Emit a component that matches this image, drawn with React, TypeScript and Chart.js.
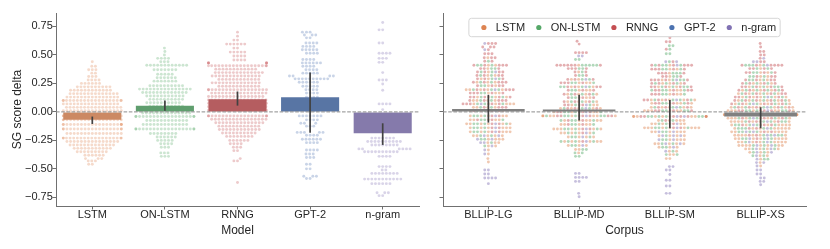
import React, { useEffect, useRef } from 'react';
import { Chart, registerables } from 'chart.js';

Chart.register(...registerables);

const FONT = '"Liberation Sans", Arial, Helvetica, sans-serif';
const TEXT = '#262626';
const AXIS = '#707070';

const MODELS = ['LSTM', 'ON-LSTM', 'RNNG', 'GPT-2', 'n-gram'];
const CORPORA = ['BLLIP-LG', 'BLLIP-MD', 'BLLIP-SM', 'BLLIP-XS'];
const Y_TICKS = [-0.75, -0.5, -0.25, 0, 0.25, 0.5, 0.75];
const Y_MIN = -0.826;
const Y_MAX = 0.868;

const MODEL_COLORS = ['#dd8452', '#55a868', '#c44e52', '#4c72b0', '#8172b3'];
const MODEL_BAR_COLORS = ['#cc8963', '#5f9e6e', '#b55d60', '#5875a4', '#857aab'];
const CORPUS_BAR_COLOR = '#808080';

// Bars (means) and error bars (CI)
const MODEL_MEAN = [-0.068, 0.053, 0.112, 0.129, -0.188];
const MODEL_CI_LOW = [-0.106, 0.011, 0.055, -0.182, -0.29];
const MODEL_CI_HIGH = [-0.041, 0.1, 0.179, 0.346, -0.1];
const CORPUS_MEAN = [0.026, 0.02, -0.006, -0.04];
const CORPUS_CI_LOW = [-0.094, -0.076, -0.144, -0.144];
const CORPUS_CI_HIGH = [0.15, 0.15, 0.105, 0.041];

// Swarm rows per model: [score delta, number of suites at that value]
const LSTM_ROWS: [number, number][] = [
  [0.44, 1], [0.4, 2], [0.37, 3], [0.34, 2], [0.31, 3], [0.28, 4], [0.25, 6], [0.22, 10], [0.19, 12],
  [0.16, 14], [0.13, 15], [0.1, 19], [0.07, 16], [0.04, 16], [0.01, 17], [-0.035, 18], [-0.07, 18],
  [-0.11, 20], [-0.15, 19], [-0.19, 16], [-0.23, 19], [-0.26, 15], [-0.29, 13], [-0.32, 11], [-0.35, 9],
  [-0.38, 6], [-0.41, 3], [-0.43, 3], [-0.46, 2],
];
const ONLSTM_ROWS: [number, number][] = [
  [0.56, 1], [0.53, 1], [0.5, 1], [0.47, 4], [0.44, 3], [0.41, 12], [0.37, 7], [0.33, 5], [0.3, 6],
  [0.27, 7], [0.23, 10], [0.2, 15], [0.17, 13], [0.14, 11], [0.11, 10], [0.08, 10], [0.05, 10], [0.02, 12],
  [-0.01, 14], [-0.04, 19], [-0.075, 12], [-0.11, 13], [-0.15, 19], [-0.19, 8], [-0.22, 6], [-0.25, 5],
  [-0.28, 4], [-0.31, 3], [-0.36, 3], [-0.39, 3],
];
const RNNG_ROWS: [number, number][] = [
  [0.7, 1], [0.665, 1], [0.63, 2], [0.595, 6], [0.56, 2], [0.525, 5], [0.49, 4], [0.455, 4], [0.43, 6],
  [0.405, 18], [0.375, 12], [0.345, 14], [0.315, 14], [0.285, 12], [0.255, 14], [0.225, 12], [0.195, 18],
  [0.165, 16], [0.135, 16], [0.105, 17], [0.075, 17], [0.045, 17], [0.015, 17], [-0.035, 19], [-0.065, 16],
  [-0.095, 14], [-0.125, 12], [-0.155, 12], [-0.185, 10], [-0.215, 8], [-0.25, 6], [-0.28, 4], [-0.31, 3],
  [-0.34, 2], [-0.41, 1], [-0.43, 2], [-0.62, 1],
];
const GPT2_ROWS: [number, number][] = [
  [0.7, 3], [0.675, 3], [0.65, 2], [0.605, 4], [0.575, 4], [0.545, 5], [0.515, 4], [0.46, 4], [0.43, 6],
  [0.4, 4], [0.37, 4], [0.34, 5], [0.315, 4], [0.29, 10], [0.26, 6], [0.225, 5], [0.195, 4], [0.165, 4],
  [0.13, 4], [0.1, 4], [0.07, 4], [0.04, 4], [0.01, 4], [-0.035, 7], [-0.07, 4], [-0.1, 3], [-0.125, 3],
  [-0.18, 5], [-0.205, 4], [-0.24, 6], [-0.27, 4], [-0.335, 4], [-0.37, 3], [-0.4, 3], [-0.46, 2],
  [-0.5, 2], [-0.565, 3], [-0.585, 2],
];
const NGRAM_ROWS: [number, number][] = [
  [0.785, 1], [0.72, 2], [0.605, 2], [0.515, 4], [0.47, 3], [0.435, 2], [0.345, 1], [0.28, 3], [0.245, 1],
  [0.19, 1], [0.07, 4], [0.02, 1], [-0.05, 2], [-0.1, 2], [-0.15, 2], [-0.23, 7], [-0.26, 10], [-0.29, 8],
  [-0.325, 6], [-0.35, 10], [-0.39, 4], [-0.48, 4], [-0.51, 2], [-0.54, 8], [-0.59, 11], [-0.63, 6],
  [-0.71, 3], [-0.735, 2],
];
const MODEL_ROWS = [LSTM_ROWS, ONLSTM_ROWS, RNNG_ROWS, GPT2_ROWS, NGRAM_ROWS];

// Swarm rows per corpus: [score delta, LSTM, ON-LSTM, RNNG, n-gram counts]
const LG_ROWS: number[][] = [
  [0.6, 0, 0, 3, 1], [0.57, 0, 0, 3, 0], [0.545, 0, 0, 1, 1], [0.51, 0, 0, 3, 0], [0.475, 1, 0, 3, 0],
  [0.445, 0, 1, 2, 0], [0.41, 2, 3, 5, 0], [0.38, 1, 2, 3, 0], [0.35, 1, 2, 4, 1], [0.32, 2, 2, 4, 0],
  [0.29, 2, 2, 3, 1], [0.26, 3, 2, 5, 0], [0.23, 2, 2, 4, 0], [0.195, 5, 3, 5, 1], [0.165, 3, 2, 5, 0],
  [0.13, 4, 3, 5, 0], [0.1, 4, 2, 5, 0], [0.07, 6, 3, 5, 1], [0.04, 4, 2, 4, 0], [0.01, 4, 2, 3, 1],
  [-0.035, 5, 3, 2, 1], [-0.07, 5, 3, 2, 0], [-0.105, 6, 4, 2, 1], [-0.14, 6, 3, 2, 1], [-0.175, 6, 3, 2, 1],
  [-0.21, 5, 2, 0, 2], [-0.24, 4, 2, 0, 2], [-0.27, 3, 1, 0, 2], [-0.3, 2, 1, 0, 1], [-0.335, 1, 0, 0, 1],
  [-0.37, 1, 0, 0, 1], [-0.41, 1, 0, 0, 0], [-0.44, 1, 0, 0, 0], [-0.51, 0, 0, 0, 2], [-0.545, 0, 0, 0, 2],
  [-0.58, 0, 0, 0, 4], [-0.63, 0, 0, 0, 1],
];
const MD_ROWS: number[][] = [
  [0.7, 0, 0, 1, 0], [0.62, 0, 0, 1, 0], [0.595, 0, 0, 1, 0], [0.52, 0, 0, 4, 0], [0.49, 0, 0, 0, 2],
  [0.46, 0, 2, 0, 0], [0.41, 1, 5, 7, 0], [0.38, 0, 2, 4, 0], [0.35, 1, 1, 2, 0], [0.32, 0, 2, 2, 0],
  [0.285, 2, 2, 3, 1], [0.255, 3, 3, 4, 0], [0.22, 3, 4, 4, 1], [0.19, 3, 2, 3, 0], [0.155, 4, 3, 3, 0],
  [0.125, 3, 2, 3, 0], [0.09, 4, 3, 3, 0], [0.06, 4, 2, 3, 1], [0.03, 5, 3, 3, 1], [0.0, 5, 4, 4, 1],
  [-0.035, 9, 6, 6, 1], [-0.075, 6, 4, 2, 0], [-0.11, 5, 3, 2, 0], [-0.15, 7, 4, 2, 1], [-0.185, 5, 3, 1, 1],
  [-0.22, 4, 3, 0, 1], [-0.26, 6, 4, 1, 1], [-0.295, 3, 2, 0, 1], [-0.33, 2, 2, 0, 0], [-0.36, 1, 2, 0, 0],
  [-0.39, 0, 2, 0, 0], [-0.54, 0, 0, 0, 2], [-0.575, 0, 0, 0, 4], [-0.61, 0, 0, 0, 2], [-0.715, 0, 0, 0, 1],
  [-0.745, 0, 0, 0, 1],
];
const SM_ROWS: number[][] = [
  [0.65, 0, 0, 1, 0], [0.615, 0, 0, 2, 0], [0.58, 0, 2, 0, 0], [0.55, 0, 1, 1, 0], [0.51, 0, 2, 0, 0],
  [0.44, 0, 1, 1, 2], [0.41, 1, 4, 6, 1], [0.375, 2, 3, 5, 0], [0.34, 1, 3, 4, 0], [0.31, 1, 2, 3, 0],
  [0.28, 2, 3, 5, 1], [0.25, 3, 3, 4, 0], [0.22, 3, 4, 5, 0], [0.19, 3, 4, 5, 0], [0.155, 3, 3, 4, 0],
  [0.105, 5, 4, 5, 1], [0.075, 5, 3, 4, 0], [0.04, 5, 3, 3, 1], [0.01, 6, 4, 4, 0], [-0.04, 10, 6, 6, 2],
  [-0.075, 5, 2, 1, 0], [-0.105, 6, 2, 1, 1], [-0.14, 9, 4, 2, 1], [-0.175, 6, 2, 0, 2], [-0.21, 4, 1, 0, 3],
  [-0.245, 4, 2, 0, 2], [-0.28, 5, 2, 0, 2], [-0.31, 3, 2, 0, 1], [-0.345, 2, 1, 0, 1], [-0.375, 2, 2, 0, 0],
  [-0.41, 2, 0, 0, 0], [-0.48, 0, 0, 0, 2], [-0.51, 0, 0, 0, 2], [-0.55, 0, 0, 0, 1], [-0.6, 0, 0, 0, 2],
  [-0.65, 0, 0, 0, 2], [-0.715, 0, 0, 0, 2],
];
const XS_ROWS: number[][] = [
  [0.6, 0, 0, 1, 0], [0.57, 0, 0, 1, 0], [0.53, 0, 0, 2, 0], [0.5, 0, 0, 2, 0], [0.47, 0, 0, 1, 1],
  [0.44, 0, 0, 2, 2], [0.41, 1, 4, 6, 1], [0.38, 1, 2, 4, 0], [0.345, 2, 3, 4, 0], [0.31, 2, 3, 3, 0],
  [0.28, 2, 3, 4, 0], [0.25, 3, 3, 4, 0], [0.22, 3, 4, 5, 0], [0.19, 4, 4, 5, 0], [0.16, 5, 4, 5, 0],
  [0.13, 5, 4, 5, 1], [0.1, 6, 5, 5, 0], [0.07, 6, 5, 5, 1], [0.04, 7, 5, 5, 1], [0.01, 8, 5, 5, 1],
  [-0.025, 11, 6, 6, 1], [-0.055, 8, 5, 4, 1], [-0.085, 8, 5, 3, 1], [-0.115, 8, 5, 3, 1], [-0.145, 8, 5, 2, 1],
  [-0.175, 8, 4, 2, 2], [-0.205, 7, 4, 2, 2], [-0.235, 8, 4, 1, 2], [-0.265, 8, 3, 1, 2], [-0.295, 8, 3, 0, 2],
  [-0.325, 5, 3, 0, 2], [-0.355, 3, 2, 0, 2], [-0.385, 2, 2, 0, 1], [-0.415, 1, 2, 0, 1], [-0.445, 1, 0, 0, 2],
  [-0.475, 1, 0, 0, 1], [-0.51, 0, 0, 0, 2], [-0.545, 0, 0, 0, 2], [-0.58, 0, 0, 0, 2], [-0.61, 0, 0, 0, 2],
  [-0.64, 0, 0, 0, 1],
];
const CORPUS_ROWS = [LG_ROWS, MD_ROWS, SM_ROWS, XS_ROWS];
const CORPUS_MODEL_COLUMNS = [0, 1, 2, 4]; // LSTM, ON-LSTM, RNNG, n-gram

const DOT = 3.45;

function rgba(hex: string, a: number) {
  const n = parseInt(hex.slice(1), 16);
  return `rgba(${(n >> 16) & 255},${(n >> 8) & 255},${n & 255},${a})`;
}

function fmtTick(v: number) {
  return (v < 0 ? '\u2212' : '') + Math.abs(v).toFixed(2);
}

const SwarmPlugin = {
  id: 'swarm',
  afterDatasetsUpdate(chart: any) {
    const xs = chart.scales.x;
    const groups = new Map<number, any[]>();
    chart.data.datasets.forEach((ds: any, di: number) => {
      if (ds.type !== 'scatter') return;
      const meta = chart.getDatasetMeta(di);
      meta.data.forEach((el: any, i: number) => {
        const raw = ds.data[i];
        if (!groups.has(raw.x)) groups.set(raw.x, []);
        groups.get(raw.x)!.push({ el, v: raw.y, ord: raw.ord, py: el.y });
      });
    });
    const d = DOT;
    groups.forEach((pts, cat) => {
      const cx = xs.getPixelForValue(cat);
      const half = 0.4 * Math.abs(xs.getPixelForValue(cat + 1) - cx);
      pts.sort((a, b) => a.v - b.v || a.ord - b.ord);
      const placed: { x: number; y: number }[] = [];
      for (const p of pts) {
        const nb: { x: number; y: number }[] = [];
        for (let k = placed.length - 1; k >= 0; k--) {
          const q = placed[k];
          if (Math.abs(q.y - p.py) >= d) break;
          nb.push(q);
        }
        const cands: number[] = [0];
        for (const q of nb) {
          const dy = p.py - q.y;
          const dx = Math.sqrt(Math.max(d * d - dy * dy, 0)) * 1.05;
          cands.push(q.x - dx, q.x + dx);
        }
        const order = cands
          .map((c, i) => [c, i])
          .sort((a, b) => Math.abs(a[0]) - Math.abs(b[0]) || a[1] - b[1]);
        let chosen = order[order.length - 1][0];
        for (const [c] of order) {
          let ok = true;
          for (const q of nb) {
            const dy = p.py - q.y;
            const dx = c - q.x;
            if (dx * dx + dy * dy < d * d - 1e-6) {
              ok = false;
              break;
            }
          }
          if (ok) {
            chosen = c;
            break;
          }
        }
        placed.push({ x: chosen, y: p.py });
        p.el.x = cx + Math.max(-half, Math.min(half, chosen));
      }
    });
  },
};

const OverlayPlugin = {
  id: 'overlay',
  afterDatasetsDraw(chart: any, _args: any, opts: any) {
    const { ctx, chartArea } = chart;
    const xs = chart.scales.x;
    const ys = chart.scales.y;
    ctx.save();
    const y0 = ys.getPixelForValue(0);
    ctx.beginPath();
    ctx.setLineDash([3.6, 1.6]);
    ctx.strokeStyle = '#8c8c8c';
    ctx.lineWidth = 1;
    ctx.moveTo(chartArea.left, y0);
    ctx.lineTo(chartArea.right, y0);
    ctx.stroke();
    ctx.setLineDash([]);
    ctx.strokeStyle = '#424242';
    ctx.lineWidth = 1.7;
    (opts.lows || []).forEach((lo: number, i: number) => {
      const px = xs.getPixelForValue(i);
      ctx.beginPath();
      ctx.moveTo(px, ys.getPixelForValue(lo));
      ctx.lineTo(px, ys.getPixelForValue(opts.highs[i]));
      ctx.stroke();
    });
    ctx.restore();
  },
};

const LegendPlugin = {
  id: 'insideLegend',
  afterDraw(chart: any, _args: any, opts: any) {
    const items = opts.items || [];
    if (!items.length) return;
    const { ctx, chartArea } = chart;
    ctx.save();
    ctx.font = `11px ${FONT}`;
    const widths = items.map((it: any) => ctx.measureText(it.label).width);
    const padL = 15;
    const dotGap = 12;
    const between = 13.6;
    const padR = 4;
    const total =
      padL + widths.reduce((s: number, w: number) => s + dotGap + w, 0) + between * (items.length - 1) + padR;
    const left = (chartArea.left + chartArea.right) / 2 - total / 2;
    const top = chartArea.top + 5.3;
    const h = 18.4;
    const r = 2.5;
    ctx.beginPath();
    ctx.moveTo(left + r, top);
    ctx.lineTo(left + total - r, top);
    ctx.arcTo(left + total, top, left + total, top + r, r);
    ctx.lineTo(left + total, top + h - r);
    ctx.arcTo(left + total, top + h, left + total - r, top + h, r);
    ctx.lineTo(left + r, top + h);
    ctx.arcTo(left, top + h, left, top + h - r, r);
    ctx.lineTo(left, top + r);
    ctx.arcTo(left, top, left + r, top, r);
    ctx.closePath();
    ctx.fillStyle = 'rgba(255,255,255,0.85)';
    ctx.fill();
    ctx.strokeStyle = '#d6d6d6';
    ctx.lineWidth = 1;
    ctx.stroke();
    let x = left + padL;
    const cy = top + h / 2;
    items.forEach((it: any, i: number) => {
      ctx.beginPath();
      ctx.arc(x, cy, 2.6, 0, Math.PI * 2);
      ctx.fillStyle = it.color;
      ctx.fill();
      ctx.fillStyle = TEXT;
      ctx.textBaseline = 'middle';
      ctx.textAlign = 'left';
      ctx.fillText(it.label, x + dotGap, cy);
      x += dotGap + widths[i] + between;
    });
    ctx.restore();
  },
};

type PanelSpec = {
  labels: string[];
  bars: number[];
  barColors: string[] | string;
  lows: number[];
  highs: number[];
  scatter: { label: string; color: string; data: any[] }[];
  xTitle: string;
  yTitle: string | null;
  yAxisWidth: number;
  padRight: number;
  legend: boolean;
  alpha: number;
};

function buildChart(canvas: HTMLCanvasElement, p: PanelSpec) {
  const n = p.labels.length;
  const tickFont = { size: 11, family: FONT, lineHeight: 1 };
  const titleFont = { size: 12, family: FONT, lineHeight: 1.2 };
  const datasets: any[] = [
    {
      type: 'bar',
      label: 'mean',
      data: p.bars.map((v, i) => ({ x: i, y: v })),
      backgroundColor: p.barColors,
      borderWidth: 0,
      categoryPercentage: 1,
      barPercentage: 0.8,
      order: 0,
    },
    ...p.scatter.map((s) => ({
      type: 'scatter',
      label: s.label,
      data: s.data,
      pointRadius: 1.45,
      pointHoverRadius: 1.45,
      pointBorderWidth: 0,
      pointBackgroundColor: rgba(s.color, p.alpha),
      backgroundColor: rgba(s.color, p.alpha),
      borderColor: 'rgba(0,0,0,0)',
      showLine: false,
      order: 1,
    })),
  ];
  return new Chart(canvas, {
    type: 'scatter',
    data: { datasets },
    options: {
      responsive: false,
      maintainAspectRatio: false,
      animation: false,
      events: [],
      layout: { padding: { top: 13, right: p.padRight, bottom: 0, left: 0 }, autoPadding: false },
      plugins: {
        legend: { display: false },
        tooltip: { enabled: false },
        overlay: { lows: p.lows, highs: p.highs },
        insideLegend: {
          items: p.legend ? p.scatter.map((s) => ({ label: s.label, color: s.color })) : [],
        },
      } as any,
      scales: {
        x: {
          type: 'linear',
          min: -0.5,
          max: n - 0.5,
          bounds: 'data',
          offset: false,
          afterBuildTicks: (s: any) => {
            s.ticks = p.labels.map((_, i) => ({ value: i }));
          },
          afterFit: (s: any) => {
            s.height = 43;
          },
          ticks: {
            callback: (v: any) => p.labels[Math.round(v)] ?? '',
            font: tickFont,
            color: TEXT,
            padding: -0.5,
            autoSkip: false,
            maxRotation: 0,
            minRotation: 0,
          },
          grid: { display: true, drawOnChartArea: false, drawTicks: true, tickLength: 3.5, color: AXIS, offset: false },
          border: { display: true, color: AXIS, width: 1 },
          title: { display: true, text: p.xTitle, font: titleFont, color: TEXT, padding: { top: 0, bottom: 11 } },
        },
        y: {
          type: 'linear',
          min: Y_MIN,
          max: Y_MAX,
          bounds: 'data',
          afterBuildTicks: (s: any) => {
            s.ticks = Y_TICKS.map((v) => ({ value: v }));
          },
          afterFit: (s: any) => {
            s.width = p.yAxisWidth;
          },
          ticks: {
            display: !!p.yTitle,
            callback: (v: any) => fmtTick(Number(v)),
            font: tickFont,
            color: TEXT,
            padding: -0.3,
          },
          grid: { display: true, drawOnChartArea: false, drawTicks: true, tickLength: 3.5, color: AXIS },
          border: { display: true, color: AXIS, width: 1 },
          title: {
            display: !!p.yTitle,
            text: p.yTitle || '',
            font: titleFont,
            color: TEXT,
            padding: { top: 10.8, bottom: 0 },
          },
        },
      },
    } as any,
    plugins: [SwarmPlugin, OverlayPlugin, LegendPlugin],
  } as any);
}

function modelScatter() {
  return MODELS.map((label, m) => {
    const data: any[] = [];
    MODEL_ROWS[m].forEach(([v, count]) => {
      for (let k = 0; k < count; k++) data.push({ x: m, y: v, ord: data.length });
    });
    return { label, color: MODEL_COLORS[m], data };
  });
}

function corpusScatter() {
  const perModel: any[][] = MODELS.map(() => []);
  CORPUS_ROWS.forEach((rows, c) => {
    let ord = 0;
    rows.forEach((row) => {
      const v = row[0];
      const left = row.slice(1);
      let any = true;
      while (any) {
        any = false;
        for (let j = 0; j < left.length; j++) {
          if (left[j] > 0) {
            left[j]--;
            perModel[CORPUS_MODEL_COLUMNS[j]].push({ x: c, y: v, ord: ord++ });
            any = true;
          }
        }
      }
    });
  });
  return MODELS.map((label, m) => ({ label, color: MODEL_COLORS[m], data: perModel[m] }));
}

export default function App() {
  const leftRef = useRef<HTMLCanvasElement | null>(null);
  const rightRef = useRef<HTMLCanvasElement | null>(null);

  useEffect(() => {
    Chart.defaults.font.family = FONT;
    const left = buildChart(leftRef.current!, {
      labels: MODELS,
      bars: MODEL_MEAN,
      barColors: MODEL_BAR_COLORS,
      lows: MODEL_CI_LOW,
      highs: MODEL_CI_HIGH,
      scatter: modelScatter(),
      xTitle: 'Model',
      yTitle: 'SG score delta',
      yAxisWidth: 56,
      padRight: 11,
      legend: false,
      alpha: 0.3,
    });
    const right = buildChart(rightRef.current!, {
      labels: CORPORA,
      bars: CORPUS_MEAN,
      barColors: CORPUS_BAR_COLOR,
      lows: CORPUS_CI_LOW,
      highs: CORPUS_CI_HIGH,
      scatter: corpusScatter(),
      xTitle: 'Corpus',
      yTitle: null,
      yAxisWidth: 13,
      padRight: 24,
      legend: true,
      alpha: 0.45,
    });
    return () => {
      left.destroy();
      right.destroy();
    };
  }, []);

  return (
    <div style={{ position: 'absolute', left: 0, top: 0, width: 830, height: 249, background: '#fff' }}>
      <canvas ref={leftRef} width={430} height={249} style={{ position: 'absolute', left: 0, top: 0 }} />
      <canvas ref={rightRef} width={400} height={249} style={{ position: 'absolute', left: 430, top: 0 }} />
    </div>
  );
}
